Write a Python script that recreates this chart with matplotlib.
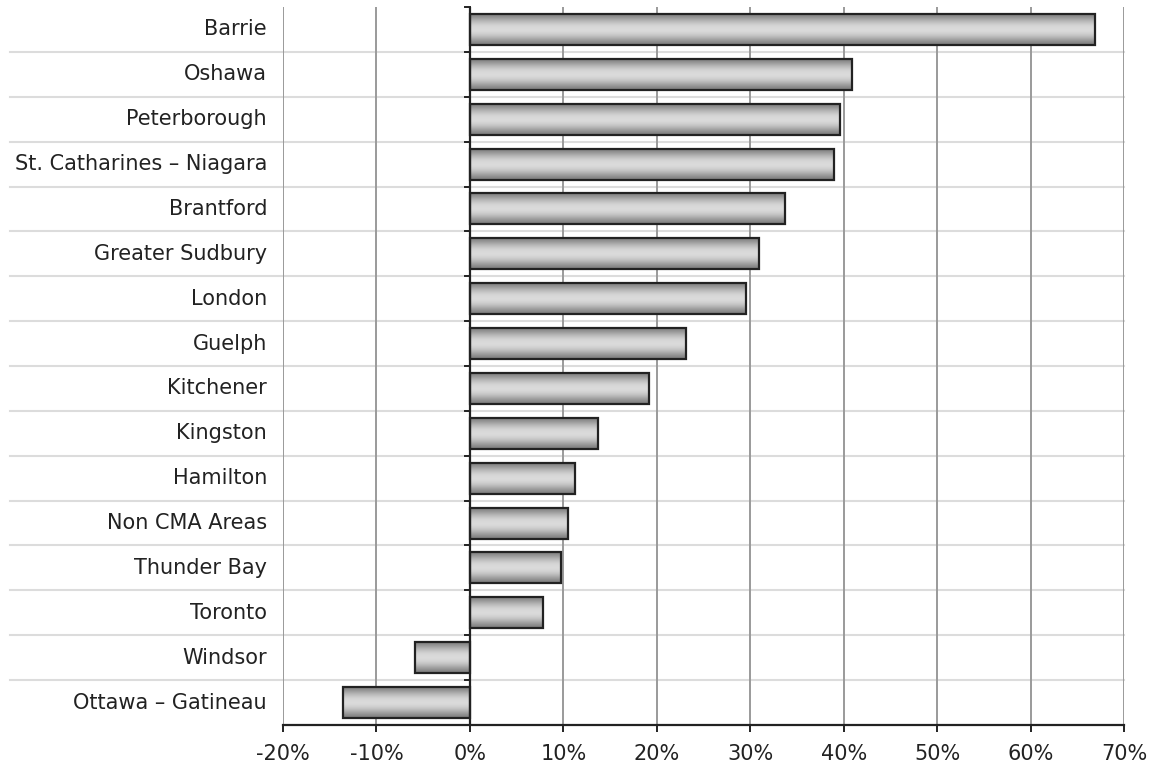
import numpy as np
import matplotlib.pyplot as plt
import matplotlib.transforms as mtransforms

### DATA
cities = ["Barrie", "Oshawa", "Peterborough", "St. Catharines \u2013 Niagara",
          "Brantford", "Greater Sudbury", "London", "Guelph", "Kitchener",
          "Kingston", "Hamilton", "Non CMA Areas", "Thunder Bay", "Toronto",
          "Windsor", "Ottawa \u2013 Gatineau"]
growth = [66.9, 40.9, 39.6, 39.0, 33.7, 30.9, 29.6, 23.1, 19.2,
          13.7, 11.3, 10.5, 9.8, 7.8, -5.9, -13.6]
xticks = [-20, -10, 0, 10, 20, 30, 40, 50, 60, 70]

plt.rcParams['font.family'] = ['DejaVu Sans']

### PLOT
fig = plt.figure(figsize=(11.59, 7.71), dpi=100)
ax = fig.add_axes([0.2442, 0.0597, 0.7256, 0.9312])

n = len(cities)
ypos = np.arange(n)
h = 0.69

# vertical gradient used to fill the bars (dark edges, light middle)
shade = np.array([0.52, 0.62, 0.72, 0.80, 0.85, 0.86, 0.84, 0.78, 0.69, 0.59, 0.50])
grad = np.stack([shade, shade, shade], axis=-1)[:, None, :]

bars = ax.barh(ypos, growth, height=h, color='none', edgecolor='#222222',
               linewidth=1.6, zorder=4)
for b in bars:
    x0, y0 = b.get_x(), b.get_y()
    w, hh = b.get_width(), b.get_height()
    im = ax.imshow(grad, extent=[min(x0, x0 + w), max(x0, x0 + w), y0 + hh, y0],
                   aspect='auto', zorder=3, interpolation='bicubic')
    im.set_clip_path(b)

ax.set_xlim(-20, 70)
ax.set_ylim(n - 0.5, -0.5)

# vertical grid
for x in xticks:
    if x != 0:
        ax.axvline(x, color='#9a9a9a', lw=1.4, zorder=1)

# horizontal separators extending into the label area
trans = mtransforms.blended_transform_factory(ax.transAxes, ax.transData)
for k in range(n - 1):
    ax.plot([-0.3246, 1.0], [k + 0.5, k + 0.5], color='#dcdcdc', lw=1.5,
            transform=trans, clip_on=False, zorder=0)

# y axis at zero with ticks at category boundaries
ax.axvline(0, color='#222222', lw=1.6, zorder=5)
for k in range(n + 1):
    ax.plot([-0.55, 0], [k - 0.5, k - 0.5], color='#222222', lw=1.4,
            zorder=5, clip_on=False)

# category labels
for i, c in enumerate(cities):
    ax.text(-0.019, i, c, transform=trans, ha='right', va='center',
            fontsize=15, color='#222222')

ax.set_yticks([])
ax.set_xticks(xticks)
ax.set_xticklabels([f"{x}%" for x in xticks], fontsize=15, color='#222222')
ax.tick_params(axis='x', length=5, width=1.4, color='#222222', pad=9)

for s in ['top', 'right', 'left']:
    ax.spines[s].set_visible(False)
ax.spines['bottom'].set_color('#222222')
ax.spines['bottom'].set_linewidth(1.6)
ax.spines['bottom'].set_zorder(6)

fig.savefig('out.png', dpi=100)
